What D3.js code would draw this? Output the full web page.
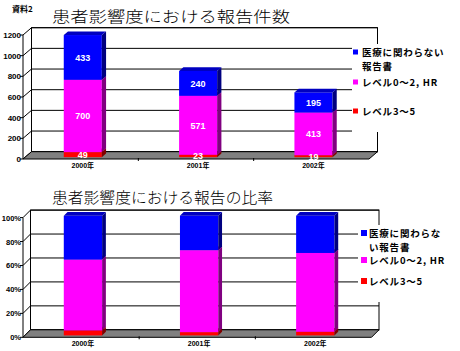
<!DOCTYPE html>
<html>
<head>
<meta charset="utf-8">
<script src="https://cdn.jsdelivr.net/npm/d3@7"></script>
<style>
    body { margin: 0; background: #fff; }
    svg { display: block; }
</style>
</head>
<body>
<svg id="page" width="460" height="351"></svg>
<script>
// Data
const years = ['2000年', '2001年', '2002年'];
const level3to5 = [49, 23, 19];
const level0to2 = [700, 571, 413];
const nonMedical = [433, 240, 195];
const countTicks = [0, 200, 400, 600, 800, 1000, 1200];
const shareTicks = [0, 0.2, 0.4, 0.6, 0.8, 1];
const seriesKeys = ['level3to5', 'level0to2', 'nonMedical'];
const legendCount = [
    { key: 'nonMedical', lines: ['医療に関わらない', '報告書'] },
    { key: 'level0to2', lines: ['レベル0～2, HR'] },
    { key: 'level3to5', lines: ['レベル3～5'] }
];
const legendShare = [
    { key: 'nonMedical', lines: ['医療に関わらな', 'い報告書'] },
    { key: 'level0to2', lines: ['レベル0～2, HR'] },
    { key: 'level3to5', lines: ['レベル3～5'] }
];

// front, side, top shades
const colors = {
    level3to5: ['#ff0000', '#800000', '#c00000'],
    level0to2: ['#ff00ff', '#800080', '#c000c0'],
    nonMedical: ['#0000ff', '#000080', '#0000c0']
};

const table = years.map((y, i) => ({
    year: y,
    level3to5: level3to5[i],
    level0to2: level0to2[i],
    nonMedical: nonMedical[i]
}));

const svg = d3.select('#page');
const JP = '"Noto Sans CJK JP", sans-serif';
const NUM = '"Liberation Sans", "Noto Sans CJK JP", sans-serif';

svg.append('text')
    .attr('x', 12).attr('y', 12)
    .style('font-family', JP).style('font-size', '8px').style('font-weight', 'bold')
    .text('資料2');

function drawChart(opt) {
    const g = svg.append('g');
    const { x0, x1, y0, h, dx, dy } = opt;
    const P = (x, y, z) => [x + z * dx, y - z * dy];

    const x = d3.scaleBand()
        .domain(years)
        .range([x0, x1])
        .paddingInner(0.67)
        .paddingOuter(0.335);
    const y = d3.scaleLinear()
        .domain(opt.domain)
        .range([y0, y0 - h]);

    // title
    g.append('text')
        .attr('x', opt.titleX).attr('y', opt.titleY)
        .attr('textLength', opt.titleW)
        .attr('lengthAdjust', 'spacingAndGlyphs')
        .style('font-family', JP).style('font-size', '15px').style('font-weight', 300)
        .text(opt.title);

    // back wall
    const line = d3.line();
    g.append('rect')
        .attr('x', x0 + dx).attr('y', y0 - h - dy)
        .attr('width', x1 - x0).attr('height', h)
        .attr('fill', '#fff').attr('stroke', '#000');

    // gridlines on back and left walls
    opt.ticks.forEach(t => {
        const yy = y(t);
        g.append('path')
            .attr('d', line([P(x0, yy, 0), P(x0, yy, 1), P(x1, yy, 1)]))
            .attr('fill', 'none').attr('stroke', '#000');
        g.append('line')
            .attr('x1', x0 - 3).attr('x2', x0)
            .attr('y1', yy).attr('y2', yy)
            .attr('stroke', '#000');
    });

    // floor
    g.append('path')
        .attr('d', line([P(x0, y0, 0), P(x1, y0, 0), P(x1, y0, 1), P(x0, y0, 1)]) + 'Z')
        .attr('fill', '#808080').attr('stroke', '#000');

    // front axis
    g.append('line')
        .attr('x1', x0).attr('x2', x0)
        .attr('y1', y0).attr('y2', y0 - h)
        .attr('stroke', '#000');
    d3.range(1, years.length).forEach(i => {
        const xx = x0 + i * x.step();
        g.append('line')
            .attr('x1', xx).attr('x2', xx)
            .attr('y1', y0 - 1).attr('y2', y0 + 2)
            .attr('stroke', '#000');
    });

    // bars
    const stack = d3.stack().keys(seriesKeys);
    if (opt.expand) stack.offset(d3.stackOffsetExpand);
    const layers = stack(table);
    const zf = 0.25, zb = 0.75, bw = x.bandwidth();

    layers.forEach(layer => {
        const c = colors[layer.key];
        layer.forEach(d => {
            const xl = x(d.data.year), xr = xl + bw;
            const yb = y(d[0]), yt = y(d[1]);
            const f = P(xl, yt, zf);
            g.append('rect')
                .attr('x', f[0]).attr('y', f[1])
                .attr('width', bw).attr('height', yb - yt)
                .attr('fill', c[0]);
            g.append('path')
                .attr('d', line([P(xr, yb, zf), P(xr, yb, zb), P(xr, yt, zb), P(xr, yt, zf)]) + 'Z')
                .attr('fill', c[1]);
            g.append('path')
                .attr('d', line([P(xl, yt, zf), P(xr, yt, zf), P(xr, yt, zb), P(xl, yt, zb)]) + 'Z')
                .attr('fill', c[2]);
        });
    });

    // value labels
    if (opt.values) {
        layers.forEach(layer => {
            layer.forEach(d => {
                const p = P(x(d.data.year) + bw / 2, (y(d[0]) + y(d[1])) / 2, zf);
                g.append('text')
                    .attr('x', p[0]).attr('y', p[1] + 3.5)
                    .attr('text-anchor', 'middle')
                    .attr('fill', '#fff')
                    .style('font-family', NUM).style('font-size', '9px').style('font-weight', 'bold')
                    .text(d.data[layer.key]);
            });
        });
    }

    // tick labels
    opt.ticks.forEach(t => {
        g.append('text')
            .attr('x', x0 - 2).attr('y', y(t) + 3)
            .attr('text-anchor', 'end')
            .style('font-family', NUM).style('font-size', opt.tickSize).style('font-weight', 'bold')
            .text(opt.fmt(t));
    });
    years.forEach(yr => {
        g.append('text')
            .attr('x', x(yr) + bw / 2 + zf * dx).attr('y', y0 + 8.5)
            .attr('text-anchor', 'middle')
            .style('font-family', NUM).style('font-size', '7px').style('font-weight', 'bold')
            .text(yr);
    });

    // legend
    const L = opt.legend;
    g.append('rect')
        .attr('x', L.x).attr('y', L.y)
        .attr('width', L.w).attr('height', L.h)
        .attr('fill', '#fff');
    L.items.forEach((item, i) => {
        const cy = L.rows[i];
        g.append('rect')
            .attr('x', L.mx).attr('y', cy - L.ms / 2 - 1)
            .attr('width', L.ms).attr('height', L.ms)
            .attr('fill', colors[item.key][0]);
        // wrapped label kept in one text element
        const txt = g.append('text')
            .attr('x', L.tx).attr('y', cy + 3.3)
            .style('font-family', JP).style('font-size', '9.5px').style('font-weight', 'bold')
            .style('letter-spacing', '0.8px');
        item.lines.forEach((s, j) => {
            txt.append('tspan')
                .attr('x', L.tx)
                .attr('dy', j ? L.lh : 0)
                .text(s);
        });
    });
}

drawChart({
    title: '患者影響度における報告件数',
    titleX: 52, titleY: 22, titleW: 238,
    x0: 23, x1: 369, y0: 159, h: 124, dx: 8.5, dy: 7.3,
    domain: [0, 1200], ticks: countTicks, fmt: d3.format('d'), tickSize: '8px',
    expand: false, values: true,
    legend: {
        x: 352, y: 44, w: 108, h: 88,
        mx: 353, ms: 5, tx: 362, lh: 14,
        rows: [53, 83, 112], items: legendCount
    }
});

drawChart({
    title: '患者影響度における報告の比率',
    titleX: 52, titleY: 203, titleW: 221,
    x0: 23, x1: 371.5, y0: 337.3, h: 119.7, dx: 7.5, dy: 7.5,
    domain: [0, 1], ticks: shareTicks, fmt: d3.format('.0%'), tickSize: '7.5px',
    expand: true, values: false,
    legend: {
        x: 358, y: 225, w: 102, h: 77,
        mx: 361, ms: 6, tx: 369, lh: 14,
        rows: [234, 261, 282], items: legendShare
    }
});
</script>
</body>
</html>
